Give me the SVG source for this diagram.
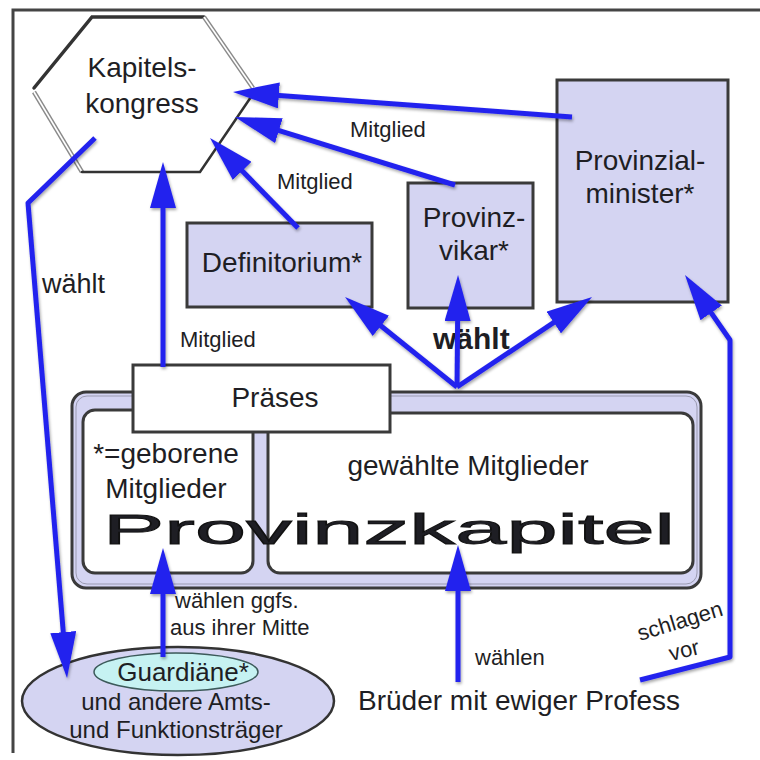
<svg xmlns="http://www.w3.org/2000/svg" width="760" height="760" viewBox="0 0 760 760">
  <style>
    .t { font-family: "Liberation Sans", Arial, sans-serif; fill: #1e1e24; }
    .lg { font-size: 28px; }
    .md { font-size: 24px; }
    .sm { font-size: 22px; }
    .mid { text-anchor: middle; }
    .box { fill: #d4d4f2; stroke: #3a3a3a; stroke-width: 3; }
    .white { fill: #ffffff; stroke: #3a3a3a; stroke-width: 3; }
    .dark { fill: none; stroke: #333333; stroke-linecap: round; }
    .lightA { fill: none; stroke: #8a8a8a; stroke-width: 4.5; }
    .lightB { fill: none; stroke: #ffffff; stroke-width: 1.6; }
    .conn { fill: none; stroke: #2323ee; stroke-width: 5; stroke-linejoin: round; marker-end: url(#ah); }
  </style>
  <defs>
    <marker id="ah" markerUnits="userSpaceOnUse" markerWidth="46" markerHeight="26" viewBox="0 0 46 26" refX="20" refY="13" orient="auto">
      <path d="M0,0 L46,13 L0,26 z" fill="#2323ee"/>
    </marker>
    <filter id="sh" x="-10%" y="-10%" width="120%" height="120%">
      <feDropShadow dx="1" dy="2" stdDeviation="1.5" flood-color="#000" flood-opacity="0.35"/>
    </filter>
  </defs>

  <rect width="760" height="760" fill="#ffffff"/>

  <!-- page frame (top and left rules) -->
  <path d="M13,753 L13,10 L760,10" fill="none" stroke="#444" stroke-width="3"/>

  <!-- Kapitelskongress hexagon -->
  <g id="kapitelskongress">
    <polygon points="92,17 204,17 253,90 200,172 82,172 34,90" fill="#ffffff"/>
    <path class="dark" stroke-width="3.5" d="M34,88 L92,17 L204,17"/>
    <path class="lightA" d="M204,17 L253,88"/>
    <path class="lightB" d="M204,17 L253,88"/>
    <path class="lightA" d="M34,92 L82,172"/>
    <path class="lightB" d="M34,92 L82,172"/>
    <path class="dark" stroke-width="2.5" d="M82,172 L200,172 L253,94"/>
    <text class="t lg mid" x="142" y="77">Kapitels-</text>
    <text class="t lg mid" x="142" y="113">kongress</text>
  </g>

  <!-- Provinzialminister -->
  <g id="provinzialminister">
    <rect class="box" x="557" y="80" width="171" height="222"/>
    <text class="t lg mid" x="640" y="170">Provinzial-</text>
    <text class="t lg mid" x="640" y="203">minister*</text>
  </g>

  <!-- Provinzvikar -->
  <g id="provinzvikar">
    <rect class="box" x="408" y="183" width="125" height="125"/>
    <text class="t lg mid" x="474" y="227">Provinz-</text>
    <text class="t lg mid" x="474" y="260">vikar*</text>
  </g>

  <!-- Definitorium -->
  <g id="definitorium">
    <rect class="box" x="187" y="223" width="185" height="84"/>
    <text class="t lg mid" x="282" y="272">Definitorium*</text>
  </g>

  <!-- Provinzkapitel with its two member groups -->
  <g id="provinzkapitel">
    <rect class="box" x="72" y="392" width="629" height="196" rx="14"/>
    <rect x="76" y="396" width="621" height="188" rx="11" fill="none" stroke="#9a9ab0" stroke-width="1"/>
    <rect class="white" x="83" y="410" width="170" height="163" rx="12"/>
    <rect class="white" x="268" y="413" width="425" height="160" rx="12"/>
    <text class="t lg mid" x="166" y="463">*=geborene</text>
    <text class="t lg mid" x="166" y="498">Mitglieder</text>
    <text class="t lg mid" x="468" y="475">gewählte Mitglieder</text>
    <text class="t" x="103" y="544" font-size="42" fill="#111" stroke="#111" stroke-width="0.9" textLength="572" lengthAdjust="spacingAndGlyphs">Provinzkapitel</text>
  </g>

  <!-- Präses -->
  <g id="praeses">
    <rect class="white" x="133" y="365" width="257" height="67"/>
    <text class="t lg mid" x="275" y="407">Präses</text>
  </g>

  <!-- Amts- und Funktionsträger -->
  <g id="amtstraeger">
    <ellipse cx="178" cy="701" rx="156" ry="54" fill="#d4d4f2" stroke="#333" stroke-width="2.5"/>
    <text class="t md mid" x="176" y="710">und andere Amts-</text>
    <text class="t md mid" x="176" y="738">und Funktionsträger</text>
  </g>

  <!-- Guardiäne -->
  <g id="guardiane">
    <ellipse cx="176" cy="672" rx="82" ry="19" fill="#c6f2f2" stroke="#3c5a5a" stroke-width="1.5"/>
    <text class="t mid" x="183" y="681" font-size="26">Guardiäne*</text>
  </g>

  <!-- Brüder mit ewiger Profess -->
  <g id="brueder">
    <text class="t lg" x="358" y="710">Brüder mit ewiger Profess</text>
  </g>

  <!-- connector labels -->
  <g id="labels">
    <text class="t sm" x="350" y="137">Mitglied</text>
    <text class="t sm" x="277" y="189">Mitglied</text>
    <text class="t sm" x="180" y="347">Mitglied</text>
    <text class="t" x="42" y="293" font-size="27">wählt</text>
    <text class="t" x="433" y="349" font-size="30" font-weight="bold">wählt</text>
    <text class="t sm" x="175" y="608">wählen ggfs.</text>
    <text class="t sm" x="170" y="635">aus ihrer Mitte</text>
    <text class="t sm" x="475" y="665">wählen</text>
    <text class="t sm" transform="translate(640,641) rotate(-17)">schlagen</text>
    <text class="t sm" transform="translate(671,661) rotate(-14)">vor</text>
  </g>

  <!-- connectors -->
  <g id="connectors" filter="url(#sh)">
    <path class="conn" d="M572,117 L258.9,93.9"/>
    <path class="conn" d="M455,185 L259.8,124.7"/>
    <path class="conn" d="M298,228 L228.2,156.6"/>
    <path class="conn" d="M163,367 L163,188"/>
    <path class="conn" d="M95,138 L28,203 L64.9,652.1"/>
    <path class="conn" d="M457,387 L365.3,313.3"/>
    <path class="conn" d="M457,387 L457.8,301"/>
    <path class="conn" d="M457,387 L570.4,311.4"/>
    <path class="conn" d="M163,657 L163,574"/>
    <path class="conn" d="M458,682 L458,571"/>
    <path class="conn" d="M640,680 L730,657 L730,340 L699.8,296.4"/>
  </g>
</svg>
